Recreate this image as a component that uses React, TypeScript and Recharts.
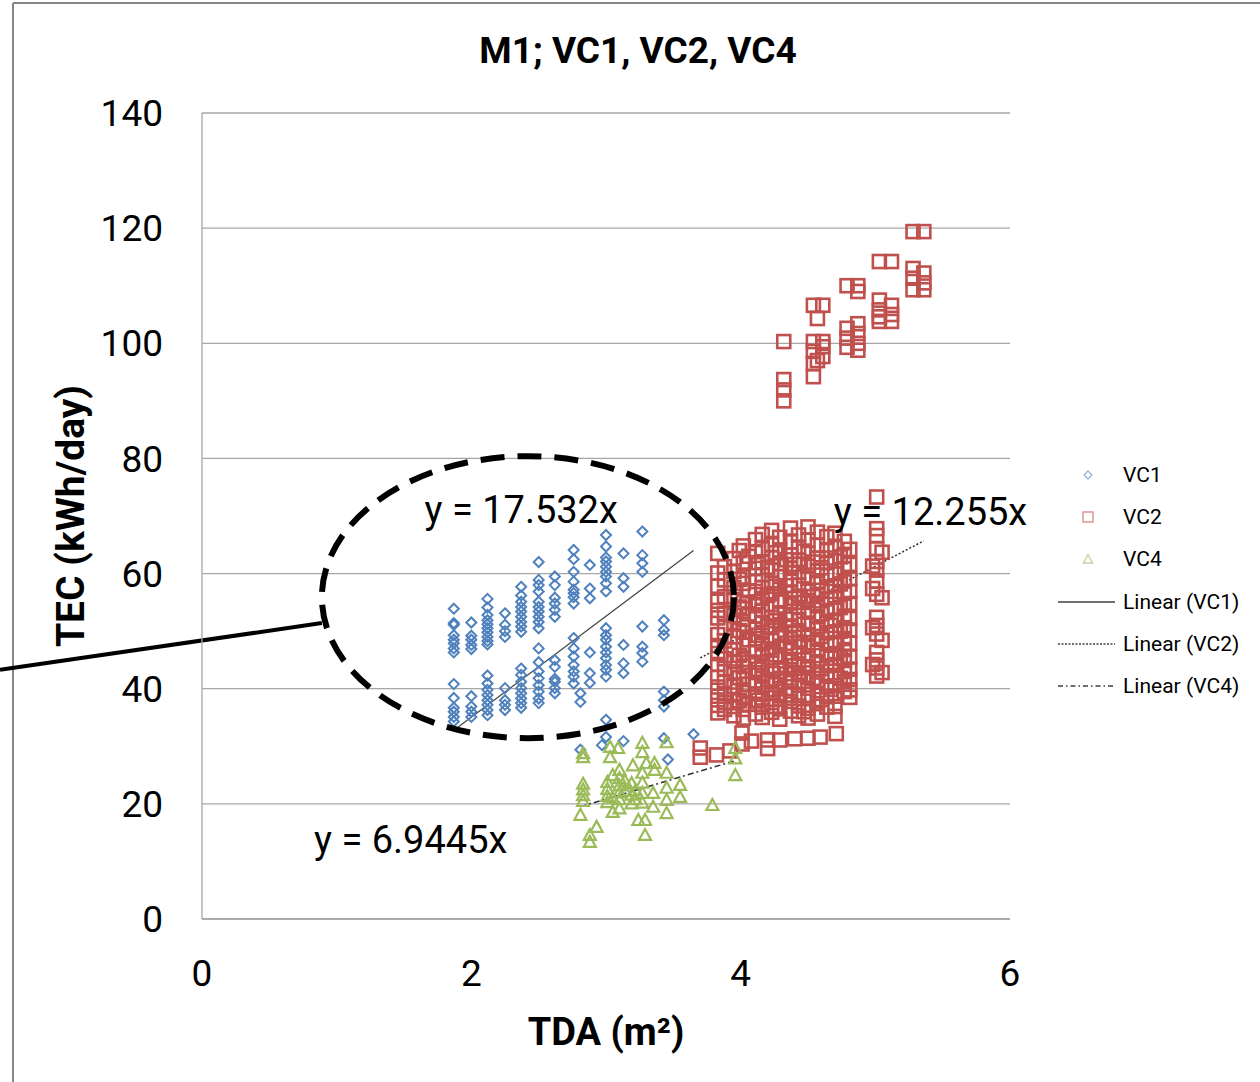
import React from "react";
import { ScatterChart, Scatter, XAxis, YAxis, CartesianGrid, ReferenceLine, ReferenceDot, Legend } from "recharts";

const FONT = "Roboto, 'Liberation Sans', sans-serif";
const BLUE = "#4f81bd";
const RED = "#c0504d";
const GREEN = "#9bbb59";
const GRID = "#a6a6a6";

const xTicks = [0, 2, 4, 6];
const yTicks = [0, 20, 40, 60, 80, 100, 120, 140];

type Col = { x: number; ys: number[] };

// VC1 (diamonds), read column by column
const vc1Cols: Col[] = [
  { x: 1.87, ys: [53.9, 51.4, 51.1, 49.3, 48.5, 47.9, 47.0, 46.3, 40.8, 38.4, 36.7, 36.0, 35.1, 34.3] },
  { x: 2.0, ys: [51.5, 49.2, 48.5, 47.6, 46.9, 38.7, 36.9, 36.0, 35.1] },
  { x: 2.12, ys: [55.6, 54.1, 52.8, 51.9, 51.2, 50.5, 49.8, 49.0, 48.3, 47.7, 42.3, 40.9, 39.8, 38.9, 38.0, 37.2, 36.3, 35.4] },
  { x: 2.25, ys: [53.1, 51.1, 50.0, 49.0, 40.1, 38.0, 37.2, 36.3] },
  { x: 2.37, ys: [57.7, 56.2, 55.1, 54.2, 53.4, 52.5, 51.6, 50.8, 49.9, 43.5, 42.4, 41.2, 40.1, 39.2, 38.3, 37.5, 36.7] },
  { x: 2.5, ys: [62.0, 58.9, 58.0, 56.9, 55.1, 54.2, 53.4, 52.5, 51.6, 50.5, 47.0, 44.6, 43.0, 41.8, 40.6, 39.5, 38.3, 37.5] },
  { x: 2.62, ys: [59.5, 58.0, 55.8, 54.8, 53.7, 52.5, 45.0, 43.8, 41.7, 41.2, 40.1, 39.2] },
  { x: 2.76, ys: [64.1, 62.5, 60.3, 58.6, 57.2, 56.6, 55.9, 54.8, 48.8, 47.0, 45.6, 44.1, 43.0, 42.1, 40.9] },
  { x: 2.81, ys: [39.2, 37.7, 29.4] },
  { x: 2.88, ys: [61.5, 57.4, 55.7, 46.3, 42.7, 41.0] },
  { x: 2.97, ys: [30.2] },
  { x: 3.0, ys: [66.7, 64.7, 62.8, 62.1, 61.2, 60.3, 59.5, 58.3, 56.9, 50.5, 49.3, 48.5, 47.3, 46.3, 45.3, 44.1, 43.3, 42.1, 34.6, 31.6] },
  { x: 3.13, ys: [63.5, 59.2, 57.7, 47.6, 44.4, 42.7, 30.9] },
  { x: 3.27, ys: [67.3, 63.2, 61.8, 60.3, 50.8, 47.3, 46.2, 44.7] },
  { x: 3.43, ys: [51.9, 50.2, 49.3, 39.5, 38.0, 36.9, 31.4] },
  { x: 3.46, ys: [27.7] },
  { x: 3.65, ys: [32.1] },
];

// VC2 (squares)
const vc2Cols: Col[] = [
  { x: 3.7, ys: [29.7, 28.1] },
  { x: 3.82, ys: [28.5] },
  { x: 3.83, ys: [63.5, 60.1, 57.8, 55.2, 53.6, 52.3, 49.4, 47.5, 46.1, 44.2, 42.0, 40.3, 38.7, 37.1, 35.8] },
  { x: 3.88, ys: [61.2, 58.9, 56.0, 53.1, 50.6, 48.3, 45.2, 43.5, 41.1, 39.2, 37.6, 36.4] },
  { x: 3.92, ys: [29.2] },
  { x: 3.95, ys: [62.6, 60.4, 57.6, 55.5, 52.7, 51.5, 49.0, 46.8, 44.7, 42.9, 40.4, 38.9, 36.9, 35.3] },
  { x: 3.99, ys: [64.0, 59.0, 54.2, 50.1, 45.8, 41.9, 37.9] },
  { x: 4.01, ys: [32.3, 30.4] },
  { x: 4.02, ys: [64.8, 62.0, 59.4, 58.3, 55.0, 53.9, 51.2, 49.8, 47.6, 45.1, 43.9, 41.6, 39.8, 38.4, 36.4, 34.9] },
  { x: 4.06, ys: [63.0, 57.0, 53.0, 48.5, 44.6, 40.8, 37.3] },
  { x: 4.08, ys: [30.9] },
  { x: 4.11, ys: [65.9, 63.8, 60.9, 58.6, 56.9, 54.4, 52.6, 50.4, 48.7, 46.4, 44.6, 42.8, 40.9, 39.1, 37.3, 35.6] },
  { x: 4.13, ys: [61.9, 55.1, 49.3, 43.4, 38.0] },
  { x: 4.16, ys: [66.8, 64.3, 62.0, 59.8, 57.6, 55.7, 53.6, 51.5, 49.8, 47.8, 45.9, 44.0, 42.2, 40.3, 38.4, 36.8, 35.0] },
  { x: 4.2, ys: [61.1, 56.2, 50.9, 46.9, 41.6, 31.1, 29.6] },
  { x: 4.23, ys: [67.5, 65.0, 62.8, 60.6, 58.3, 56.5, 54.6, 52.4, 50.6, 48.5, 46.7, 44.9, 43.1, 41.2, 39.4, 37.6, 35.9] },
  { x: 4.26, ys: [63.6, 57.8, 51.8, 45.9, 40.7, 36.9] },
  { x: 4.29, ys: [66.3, 64.1, 61.7, 59.5, 57.3, 55.2, 53.2, 51.1, 49.3, 47.4, 45.5, 43.6, 41.8, 40.0, 38.2, 36.5, 34.7, 31.1] },
  { x: 4.32, ys: [100.3, 93.7, 91.9, 90.0] },
  { x: 4.34, ys: [62.4, 57.9, 52.1, 47.9, 42.6, 38.9] },
  { x: 4.37, ys: [67.9, 65.5, 63.2, 60.9, 58.9, 56.8, 54.9, 52.9, 50.9, 48.9, 47.0, 45.1, 43.3, 41.4, 39.6, 37.8, 36.1] },
  { x: 4.4, ys: [61.6, 55.7, 49.6, 44.0, 31.3] },
  { x: 4.43, ys: [66.7, 64.6, 62.3, 60.2, 58.0, 56.1, 54.1, 52.0, 50.1, 48.1, 46.2, 44.3, 42.4, 40.6, 38.8, 37.0, 35.3] },
  { x: 4.47, ys: [63.9, 59.6, 55.0, 51.2, 45.0, 41.3, 36.0] },
  { x: 4.5, ys: [68.1, 65.8, 63.5, 61.3, 59.2, 57.1, 55.3, 53.3, 51.4, 49.4, 47.5, 45.7, 43.8, 42.0, 40.1, 38.4, 36.6, 34.9, 31.4] },
  { x: 4.54, ys: [106.6, 100.3, 98.6, 96.5, 94.2, 62.0, 56.0, 48.0, 41.8] },
  { x: 4.57, ys: [104.3, 97.0, 67.2, 64.9, 62.7, 60.5, 58.5, 56.4, 54.4, 52.5, 50.5, 48.6, 46.6, 44.7, 42.9, 41.1, 39.2, 37.4, 35.6] },
  { x: 4.59, ys: [31.6] },
  { x: 4.6, ys: [61.0, 57.1, 53.0, 49.1, 43.5, 38.1] },
  { x: 4.61, ys: [106.6, 100.3, 99.4, 97.7] },
  { x: 4.64, ys: [66.4, 64.0, 61.9, 59.7, 57.7, 55.6, 53.6, 51.7, 49.7, 47.8, 45.9, 44.0, 42.2, 40.4, 38.6, 36.8] },
  { x: 4.67, ys: [62.7, 56.9, 51.0, 45.3, 39.9] },
  { x: 4.7, ys: [67.0, 64.5, 62.2, 60.0, 57.9, 55.9, 53.9, 51.9, 49.9, 48.0, 46.1, 44.2, 42.3, 40.5, 38.7, 36.9, 35.2] },
  { x: 4.71, ys: [32.2] },
  { x: 4.74, ys: [62.9, 58.2, 54.1, 50.0, 45.4, 41.8] },
  { x: 4.77, ys: [65.6, 63.1, 60.8, 58.7, 56.6, 54.6, 52.6, 50.6, 48.7, 46.8, 44.9, 43.0, 41.2, 39.5] },
  { x: 4.79, ys: [110.0, 102.6, 100.9, 99.3] },
  { x: 4.81, ys: [64.2, 61.6, 59.1, 56.9, 54.8, 52.2, 50.2, 47.9, 45.5, 43.4, 41.6, 39.8, 38.5] },
  { x: 4.87, ys: [110.0, 109.0, 103.4, 101.7, 100.0, 98.8] },
  { x: 4.98, ys: [61.3, 57.4, 50.6, 44.2] },
  { x: 5.01, ys: [73.3, 67.8, 66.6, 64.3, 62.1, 60.6, 58.7, 56.4, 52.4, 51.0, 49.5, 46.3, 45.0, 43.6, 42.2] },
  { x: 5.03, ys: [114.2, 107.5, 105.8, 104.6, 103.8] },
  { x: 5.05, ys: [63.7, 55.8, 48.4, 42.8] },
  { x: 5.12, ys: [114.2, 106.6, 105.0, 103.8] },
  { x: 5.28, ys: [119.4, 113.0, 111.3, 109.3] },
  { x: 5.36, ys: [119.4, 112.2, 110.5, 109.3] },
];

// VC4 (triangles)
const vc4Cols: Col[] = [
  { x: 2.81, ys: [18.1] },
  { x: 2.83, ys: [28.8, 28.1, 23.5, 22.5, 21.5, 20.5] },
  { x: 2.88, ys: [14.6, 13.4] },
  { x: 2.93, ys: [16.0] },
  { x: 3.01, ys: [23.8, 22.6, 21.4, 20.3] },
  { x: 3.03, ys: [29.9, 28.1] },
  { x: 3.05, ys: [25.0, 21.0, 18.6] },
  { x: 3.09, ys: [29.7] },
  { x: 3.1, ys: [25.9, 24.5, 23.2, 22.0, 20.8, 19.2] },
  { x: 3.14, ys: [24.0, 22.3] },
  { x: 3.19, ys: [23.6, 21.6, 20.1] },
  { x: 3.2, ys: [26.7] },
  { x: 3.22, ys: [22.4, 20.8] },
  { x: 3.24, ys: [17.2] },
  { x: 3.27, ys: [30.6, 29.0, 25.4, 23.7, 21.9, 20.2] },
  { x: 3.29, ys: [17.2, 14.6] },
  { x: 3.3, ys: [27.1] },
  { x: 3.35, ys: [21.9, 19.5] },
  { x: 3.36, ys: [27.1, 25.9] },
  { x: 3.45, ys: [30.7, 25.4, 22.8, 20.7, 18.4] },
  { x: 3.55, ys: [23.3, 21.2] },
  { x: 3.79, ys: [19.8] },
  { x: 3.96, ys: [29.7, 27.9, 25.0] },
];

const slopeVC1 = 17.532;
const slopeVC2 = 12.255;
const slopeVC4 = 6.9445;

const equations = [
  { text: "y = 17.532x", x: 2.37, y: 71.0 },
  { text: "y = 12.255x", x: 5.41, y: 70.7 },
  { text: "y = 6.9445x", x: 1.55, y: 13.7 },
];

const legendItems = [
  { name: "VC1", kind: "diamond" },
  { name: "VC2", kind: "square" },
  { name: "VC4", kind: "triangle" },
  { name: "Linear (VC1)", kind: "solid" },
  { name: "Linear (VC2)", kind: "dot" },
  { name: "Linear (VC4)", kind: "dashdot" },
];

const flatten = (cols: Col[]) => cols.flatMap((c) => c.ys.map((y) => ({ x: c.x, y })));
const trend = (cols: Col[], slope: number) => {
  const xs = cols.map((c) => c.x);
  const a = Math.min(...xs);
  const b = Math.max(...xs);
  return [{ x: a, y: slope * a }, { x: b, y: slope * b }];
};

const vc1Data = flatten(vc1Cols);
const vc2Data = flatten(vc2Cols);
const vc4Data = flatten(vc4Cols);

const DiamondShape = (p: any) => {
  const { cx, cy } = p;
  const r = 5;
  return <path d={`M${cx},${cy - r}L${cx + r},${cy}L${cx},${cy + r}L${cx - r},${cy}Z`} fill="none" stroke={BLUE} strokeWidth={2} />;
};
const SquareShape = (p: any) => {
  const { cx, cy } = p;
  return <rect x={cx - 6.5} y={cy - 6.5} width={13} height={13} fill="none" stroke={RED} strokeWidth={2.6} />;
};
const TriangleShape = (p: any) => {
  const { cx, cy } = p;
  return <path d={`M${cx},${cy - 6}L${cx + 6},${cy + 5}L${cx - 6},${cy + 5}Z`} fill="none" stroke={GREEN} strokeWidth={2.2} />;
};

function LegendIcon({ kind }: { kind: string }) {
  const c = 32;
  let el: React.ReactNode = null;
  if (kind === "diamond") el = <path d={`M${c},6L${c + 4},10L${c},14L${c - 4},10Z`} fill="none" stroke="#95b3d7" strokeWidth={1.3} />;
  if (kind === "square") el = <rect x={c - 5} y={5} width={10} height={10} fill="none" stroke="#d99694" strokeWidth={1.5} />;
  if (kind === "triangle") el = <path d={`M${c},5.5L${c + 4.5},14L${c - 4.5},14Z`} fill="none" stroke="#c3d69b" strokeWidth={1.5} />;
  if (kind === "solid") el = <line x1={2} x2={59} y1={10} y2={10} stroke="#404040" strokeWidth={1.3} />;
  if (kind === "dot") el = <line x1={2} x2={59} y1={10} y2={10} stroke="#404040" strokeWidth={1.3} strokeDasharray="2 1.5" />;
  if (kind === "dashdot") el = <line x1={2} x2={59} y1={10} y2={10} stroke="#404040" strokeWidth={1.3} strokeDasharray="5 3 1.5 3" />;
  return (
    <svg width={60} height={20} style={{ display: "block" }}>
      {el}
    </svg>
  );
}

function LegendBox() {
  return (
    <div style={{ fontFamily: FONT, fontSize: 21, color: "#000" }}>
      {legendItems.map((it) => (
        <div key={it.name} style={{ height: 42.2, display: "flex", alignItems: "center" }}>
          <LegendIcon kind={it.kind} />
          <span style={{ marginLeft: 7 }}>{it.name}</span>
        </div>
      ))}
    </div>
  );
}

const tickStyle = { fill: "#000", fontSize: 37, fontFamily: FONT };

export default function App() {
  return (
    <div style={{ position: "fixed", left: 0, top: 0, width: 1260, height: 1082, background: "#fff" }}>
      <svg width={1260} height={1082} style={{ position: "absolute", left: 0, top: 0 }}>
        <line x1={13} y1={3} x2={1260} y2={3} stroke="#868686" strokeWidth={2} />
        <line x1={13} y1={3} x2={13} y2={1082} stroke="#868686" strokeWidth={2} />
        <text x={638} y={63} textAnchor="middle" fontFamily={FONT} fontSize={37} fontWeight={700} fill="#000">
          M1; VC1, VC2, VC4
        </text>
      </svg>
      <div style={{ position: "absolute", left: 0, top: 0 }}>
        <ScatterChart width={1260} height={1082} margin={{ top: 113, right: 250, bottom: 0, left: 0 }}>
          <CartesianGrid vertical={false} stroke={GRID} strokeWidth={1.3} />
          <XAxis
            type="number"
            dataKey="x"
            domain={[0, 6]}
            ticks={xTicks}
            height={163}
            tickLine={false}
            tickSize={0}
            tickMargin={41}
            axisLine={{ stroke: GRID, strokeWidth: 1.3 }}
            tick={tickStyle}
            label={{ value: "TDA (m²)", position: "insideBottom", offset: 37, fontSize: 38, fontWeight: 700, fill: "#000", fontFamily: FONT }}
          />
          <YAxis
            type="number"
            dataKey="y"
            domain={[0, 140]}
            ticks={yTicks}
            width={202}
            tickLine={false}
            tickSize={0}
            tickMargin={39}
            axisLine={{ stroke: GRID, strokeWidth: 1.3 }}
            tick={tickStyle}
            label={{ value: "TEC (kWh/day)", angle: -90, position: "insideLeft", offset: 70, style: { textAnchor: "middle" }, fontSize: 39, fontWeight: 700, fill: "#000", fontFamily: FONT }}
          />
          <Scatter name="VC1" data={vc1Data} shape={DiamondShape} isAnimationActive={false} />
          <Scatter name="VC2" data={vc2Data} shape={SquareShape} isAnimationActive={false} />
          <Scatter name="VC4" data={vc4Data} shape={TriangleShape} isAnimationActive={false} />
          <ReferenceLine segment={trend(vc1Cols, slopeVC1)} stroke="#404040" strokeWidth={1.2} ifOverflow="visible" />
          <ReferenceLine segment={trend(vc2Cols, slopeVC2)} stroke="#303030" strokeWidth={1.5} strokeDasharray="2 2" ifOverflow="visible" />
          <ReferenceLine segment={trend(vc4Cols, slopeVC4)} stroke="#303030" strokeWidth={1.5} strokeDasharray="6 3 2 3" ifOverflow="visible" />
          <ReferenceDot
            x={2.42}
            y={55.9}
            ifOverflow="visible"
            shape={(p: any) => <ellipse cx={p.cx} cy={p.cy} rx={206} ry={141} fill="none" stroke="#000" strokeWidth={6} strokeDasharray="24 13" />}
          />
          <ReferenceLine segment={[{ x: -1.5, y: 43.3 }, { x: 0.89, y: 51.4 }]} stroke="#000" strokeWidth={4} ifOverflow="visible" />
          {equations.map((e) => (
            <ReferenceDot
              key={e.text}
              x={e.x}
              y={e.y}
              ifOverflow="visible"
              shape={(p: any) => (
                <text x={p.cx} y={p.cy} textAnchor="middle" dominantBaseline="central" fontFamily={FONT} fontSize={38} fill="#000">
                  {e.text}
                </text>
              )}
            />
          ))}
          <Legend
            layout="horizontal"
            verticalAlign="middle"
            align="center"
            width={204}
            wrapperStyle={{ left: 1056, top: 454 }}
            content={() => <LegendBox />}
          />
        </ScatterChart>
      </div>
    </div>
  );
}
